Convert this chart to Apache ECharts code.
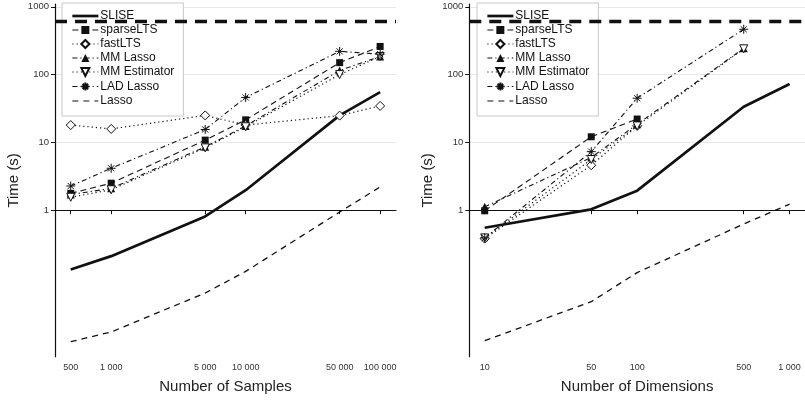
<!DOCTYPE html>
<html><head><meta charset="utf-8">
<script src="https://cdn.jsdelivr.net/npm/echarts@6/dist/echarts.min.js"></script>
<style>html,body{margin:0;padding:0;background:#fff}#c{width:805px;height:400px}</style>
</head><body><div id="c"></div>
<script>
// ---------- data ----------
const sampleSizes = [500, 1000, 5000, 10000, 50000, 100000];
const sampleTickLabels = ['500', '1 000', '5 000', '10 000', '50 000', '100 000'];
const dimensions = [10, 50, 100, 500, 1000];
const dimTickLabels = ['10', '50', '100', '500', '1 000'];
const timeTicks = [1, 10, 100, 1000];
const timeTickLabels = ['1', '10', '100', '1000'];
const timeoutSeconds = 600;
const methodNames = ['SLISE', 'sparseLTS', 'fastLTS', 'MM Lasso', 'MM Estimator', 'LAD Lasso', 'Lasso'];

// Left panel: time (s) vs number of samples
const samplesSLISE = [0.133, 0.21, 0.81, 1.97, 25, 55];
const samplesSparseLTS = [1.77, 2.5, 10.8, 21.5, 150, 260];
const samplesFastLTS = [18, 15.8, 25, 18, 24.8, 34.5];
const samplesMMLasso = [1.7, 2.1, 8.6, 17.5, 115, 185];
const samplesMMEstimator = [1.55, 2.0, 8.3, 17, 100, 185];
const samplesLADLasso = [2.27, 4.15, 15.5, 46, 220, 200];
const samplesLasso = [0.0115, 0.016, 0.06, 0.125, 0.94, 2.2];

// Right panel: time (s) vs number of dimensions (null = not available / timed out)
const dimsSLISE = [0.55, 1.03, 1.94, 33.6, 72.7];
const dimsSparseLTS = [0.98, 12.1, 22.1, null, null];
const dimsFastLTS = [0.38, 4.6, 17.5, null, null];
const dimsMMLasso = [1.12, 6.0, 18.5, 244, null];
const dimsMMEstimator = [0.39, 5.6, 17.5, 240, null];
const dimsLADLasso = [0.39, 7.3, 44.8, 466, null];
const dimsLasso = [0.0119, 0.0447, 0.12, 0.625, 1.23];

// ---------- styles ----------
const INK = '#111';
const asteriskPath = 'path://M5,0L5,10M0,5L10,5M1.6,1.6L8.4,8.4M1.6,8.4L8.4,1.6';
const styles = {
  'SLISE': { lineStyle: { width: 2.7, type: 'solid' }, symbol: 'none' },
  'sparseLTS': { lineStyle: { width: 1.1, type: [6, 4] }, symbol: 'rect', symbolSize: 7,
    itemStyle: { color: INK } },
  'fastLTS': { lineStyle: { width: 1.2, type: [1.2, 3] }, symbol: 'diamond', symbolSize: 9,
    itemStyle: { color: '#fff', borderColor: INK, borderWidth: 1 } },
  'MM Lasso': { lineStyle: { width: 1.1, type: [5, 3, 1.2, 3] }, symbol: 'triangle', symbolSize: 8,
    itemStyle: { color: INK } },
  'MM Estimator': { lineStyle: { width: 1.2, type: [1.2, 3] }, symbol: 'triangle', symbolRotate: 180, symbolSize: 8,
    itemStyle: { color: '#fff', borderColor: INK, borderWidth: 1 } },
  'LAD Lasso': { lineStyle: { width: 1.1, type: [5, 3, 1.2, 3] }, symbol: asteriskPath, symbolSize: 9,
    itemStyle: { color: 'none', borderColor: INK, borderWidth: 1 } },
  'Lasso': { lineStyle: { width: 1.3, type: [6, 5] }, symbol: 'none' }
};

const leftData = [samplesSLISE, samplesSparseLTS, samplesFastLTS, samplesMMLasso, samplesMMEstimator, samplesLADLasso, samplesLasso];
const rightData = [dimsSLISE, dimsSparseLTS, dimsFastLTS, dimsMMLasso, dimsMMEstimator, dimsLADLasso, dimsLasso];

function makeSeries(xs, ys, name, idx) {
  const st = styles[name];
  const data = xs.map((x, i) => ys[i] == null ? null : [Math.log10(x), Math.log10(ys[i])]).filter(d => d);
  const s = {
    type: 'line', name: name, xAxisIndex: idx, yAxisIndex: idx, data: data,
    symbol: st.symbol, symbolSize: st.symbolSize || 0, symbolRotate: st.symbolRotate || 0,
    showSymbol: st.symbol !== 'none',
    lineStyle: Object.assign({ color: INK }, st.lineStyle),
    itemStyle: Object.assign({ color: INK }, st.itemStyle || {}),
    z: name === 'SLISE' || name === 'Lasso' ? 2 : 3,
    emphasis: { disabled: true }, silent: true
  };
  if (name === 'SLISE') {
    s.markLine = {
      silent: true, symbol: ['none', 'none'], label: { show: false },
      lineStyle: { color: INK, width: 3.3, type: [12, 8] },
      data: [{ yAxis: Math.log10(timeoutSeconds) }]
    };
  }
  return s;
}

const series = [];
methodNames.forEach((n, i) => series.push(makeSeries(sampleSizes, leftData[i], n, 0)));
methodNames.forEach((n, i) => series.push(makeSeries(dimensions, rightData[i], n, 1)));

function labelLookup(ticks, labels) {
  return v => {
    let best = 0, bd = Infinity;
    ticks.forEach((t, i) => { const d = Math.abs(Math.log10(t) - v); if (d < bd) { bd = d; best = i; } });
    return labels[best];
  };
}

const font = '"Liberation Sans", Arial, Helvetica, sans-serif';
function xAxisCfg(idx, ticks, labels, min, max, name) {
  const vals = ticks.map(t => Math.log10(t));
  return {
    type: 'value', gridIndex: idx, min: min, max: max,
    name: name, nameLocation: 'middle', nameGap: 23,
    nameTextStyle: { fontSize: 15, color: '#222', fontFamily: font },
    axisLine: { show: true, lineStyle: { color: INK, width: 1.2 } },
    axisTick: { show: true, length: 4, lineStyle: { color: INK, width: 1 }, customValues: vals },
    axisLabel: { customValues: vals, formatter: labelLookup(ticks, labels), fontSize: 9, color: '#333', margin: 6, fontFamily: font },
    splitLine: { show: false }
  };
}
function yAxisCfg(idx) {
  const vals = timeTicks.map(t => Math.log10(t));
  return {
    type: 'value', gridIndex: idx, min: -2.161, max: 3.041,
    name: 'Time (s)', nameLocation: 'middle', nameGap: 34,
    nameTextStyle: { fontSize: 15, color: '#222', fontFamily: font },
    axisLine: { show: true, lineStyle: { color: INK, width: 1.2 } },
    axisTick: { show: true, length: 4, lineStyle: { color: INK, width: 1 }, customValues: vals },
    axisLabel: { customValues: vals, formatter: labelLookup(timeTicks, timeTickLabels), fontSize: 9.5, color: '#333', margin: 6, fontFamily: font },
    splitLine: { show: true, lineStyle: { color: '#e8e8e8', width: 1 } }
  };
}

function legendCfg(left) {
  return {
    left: left, top: 3, orient: 'vertical',
    padding: [7, 9, 9, 9], itemGap: 2, itemWidth: 26, itemHeight: 10,
    backgroundColor: '#fff', borderColor: '#c8c8c8', borderWidth: 1, borderRadius: 0,
    selectedMode: false,
    textStyle: { fontSize: 12, color: '#111', fontFamily: font, lineHeight: 12, padding: [0, 0, 0, -3] },
    data: methodNames.map(n => {
      const noMarker = styles[n].symbol === 'none';
      const item = { name: n, lineStyle: { width: n === 'SLISE' ? 2.7 : 1.1 } };
      if (noMarker) item.itemStyle = { color: 'rgba(0,0,0,0)', borderWidth: 0, opacity: 0 };
      return item;
    })
  };
}

const chart = echarts.init(document.getElementById('c'), null, { renderer: 'canvas' });
chart.setOption({
  animation: false,
  backgroundColor: '#fff',
  grid: [
    { left: 55, top: 4, width: 341, height: 352.7, containLabel: false },
    { left: 469.3, top: 4, width: 341.4, height: 352.7, containLabel: false }
  ],
  xAxis: [
    xAxisCfg(0, sampleSizes, sampleTickLabels, 2.582, 5.118, 'Number of Samples'),
    xAxisCfg(1, dimensions, dimTickLabels, 0.899, 3.101, 'Number of Dimensions')
  ],
  yAxis: [yAxisCfg(0), yAxisCfg(1)],
  legend: [legendCfg(62), legendCfg(477)],
  series: series
});
</script></body></html>
